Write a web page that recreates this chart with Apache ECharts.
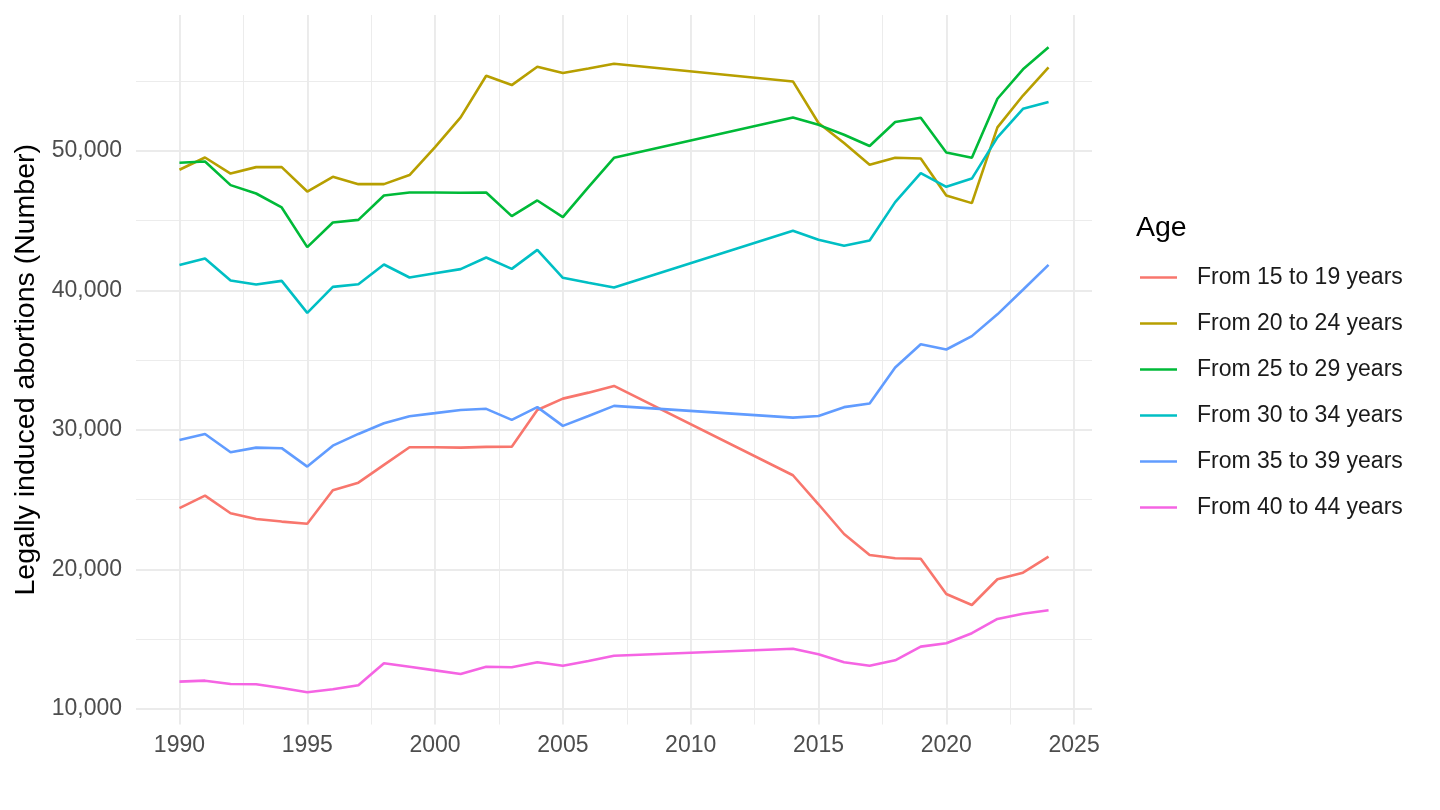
<!DOCTYPE html>
<html>
<head>
<meta charset="utf-8">
<script src="https://cdn.jsdelivr.net/npm/echarts@6/dist/echarts.min.js"></script>
<style>
  html, body { margin: 0; padding: 0; background: #fff; }
  #chart { width: 1440px; height: 810px; }
</style>
</head>
<body>
<div id="chart"></div>
<script>
const years = [1990, 1991, 1992, 1993, 1994, 1995, 1996, 1997, 1998, 1999, 2000, 2001, 2002, 2003, 2004, 2005, 2006, 2007,
  2014, 2015, 2016, 2017, 2018, 2019, 2020, 2021, 2022, 2023, 2024]

const age15to19 = [24390, 25290, 24030, 23620, 23430, 23280, 25680, 26220, 27490, 28760, 28760, 28730, 28780, 28800, 31430, 32240, 32670, 33150,
  26750, 24670, 22540, 21040, 20800, 20770, 18240, 17450, 19300, 19770, 20920]
const age20to24 = [48640, 49520, 48370, 48830, 48830, 47080, 48140, 47610, 47610, 48260, 50260, 52390, 55380, 54710, 56020, 55570, 55900, 56240,
  54970, 51990, 50560, 49000, 49500, 49450, 46800, 46250, 51680, 53960, 55970]
const age25to29 = [49140, 49230, 47540, 46940, 45940, 43100, 44860, 45050, 46800, 47010, 47010, 46990, 47010, 45320, 46440, 45250, 47400, 49500,
  52390, 51860, 51150, 50340, 52060, 52370, 49880, 49500, 53730, 55840, 57420]
const age30to34 = [41810, 42280, 40700, 40420, 40680, 38390, 40250, 40440, 41850, 40920, 41230, 41520, 42350, 41540, 42900, 40900, 40540, 40200,
  44270, 43620, 43190, 43570, 46320, 48400, 47420, 48010, 50960, 53010, 53490]
const age35to39 = [29280, 29710, 28400, 28730, 28690, 27370, 28870, 29710, 30480, 30980, 31200, 31430, 31510, 30720, 31630, 30290, 31000, 31720,
  30880, 31000, 31630, 31890, 34470, 36140, 35760, 36720, 38280, 40040, 41830]
const age40to44 = [11960, 12030, 11790, 11770, 11510, 11200, 11410, 11700, 13280, 13030, 12770, 12510, 13030, 12990, 13350, 13100, 13440, 13820,
  14320, 13920, 13350, 13100, 13490, 14470, 14710, 15430, 16450, 16830, 17080]

const seriesNames = ['From 15 to 19 years', 'From 20 to 24 years', 'From 25 to 29 years',
  'From 30 to 34 years', 'From 35 to 39 years', 'From 40 to 44 years']
const seriesValues = [age15to19, age20to24, age25to29, age30to34, age35to39, age40to44]
const colors = ['#F8766D', '#B79F00', '#00BA38', '#00BFC4', '#619CFF', '#F564E3']

const xTicks = [1990, 1995, 2000, 2005, 2010, 2015, 2020, 2025]
const xMinor = [1992.5, 1997.5, 2002.5, 2007.5, 2012.5, 2017.5, 2022.5]
const yTicks = [10000, 20000, 30000, 40000, 50000]
const yMinor = [15000, 25000, 35000, 45000, 55000]

const font = "'Liberation Sans', Arial, sans-serif"
const gridColor = '#EBEBEB'

// ggplot style 5% expansion of the data range
const expand = (lo, hi) => [lo - (hi - lo) * 0.05, hi + (hi - lo) * 0.05]
const allValues = seriesValues.flat()
const xRange = expand(Math.min(...years), Math.max(...years))
const yRange = expand(Math.min(...allValues), Math.max(...allValues))

const chart = echarts.init(document.getElementById('chart'))

const minorAxis = (range, values) => ({
  type: 'value',
  min: range[0],
  max: range[1],
  axisLine: { show: false },
  axisLabel: { show: false },
  axisTick: { show: false, customValues: values },
  splitLine: { show: true, lineStyle: { color: gridColor, width: 0.95 } }
})

const option = {
  backgroundColor: '#ffffff',
  animation: false,
  title: {
    text: 'Age',
    left: 1131,
    top: 209,
    textStyle: { fontFamily: font, fontSize: 28.5, fontWeight: 'normal', color: '#000' }
  },
  legend: {
    orient: 'vertical',
    left: 1140,
    top: 266,
    padding: 0,
    icon: 'rect',
    itemWidth: 37,
    itemHeight: 2.5,
    itemGap: 23,
    data: seriesNames,
    textStyle: { fontFamily: font, fontSize: 23, color: '#1a1a1a', padding: [0, 0, 0, 15], lineHeight: 23 }
  },
  grid: {
    left: 136,
    top: 15,
    width: 956,
    height: 709.5,
    containLabel: false,
    outerBoundsMode: 'none'
  },
  xAxis: [{
    type: 'value',
    min: xRange[0],
    max: xRange[1],
    axisLine: { show: false },
    axisTick: { show: false, customValues: xTicks },
    axisLabel: {
      customValues: xTicks,
      margin: 10,
      fontFamily: font, fontSize: 23, color: '#4D4D4D',
      formatter: v => String(v)
    },
    splitLine: { show: true, lineStyle: { color: gridColor, width: 1.9 } }
  }, minorAxis(xRange, xMinor)],
  yAxis: [{
    type: 'value',
    min: yRange[0],
    max: yRange[1],
    name: 'Legally induced abortions (Number)',
    nameLocation: 'middle',
    nameGap: 89,
    nameTextStyle: { fontFamily: font, fontSize: 28.5, color: '#000' },
    axisLine: { show: false },
    axisTick: { show: false, customValues: yTicks },
    axisLabel: {
      customValues: yTicks,
      margin: 14,
      fontFamily: font, fontSize: 23, color: '#4D4D4D',
      formatter: v => v.toLocaleString('en-US')
    },
    splitLine: { show: true, lineStyle: { color: gridColor, width: 1.9 } }
  }, { ...minorAxis(yRange, yMinor), position: 'left' }],
  series: seriesNames.map((name, i) => ({
    name: name,
    type: 'line',
    xAxisIndex: 0,
    yAxisIndex: 0,
    symbol: 'none',
    color: colors[i],
    itemStyle: { color: colors[i] },
    lineStyle: { width: 2.6, color: colors[i] },
    data: years.map((y, j) => [y, seriesValues[i][j]])
  }))
}

chart.setOption(option)
</script>
</body>
</html>
